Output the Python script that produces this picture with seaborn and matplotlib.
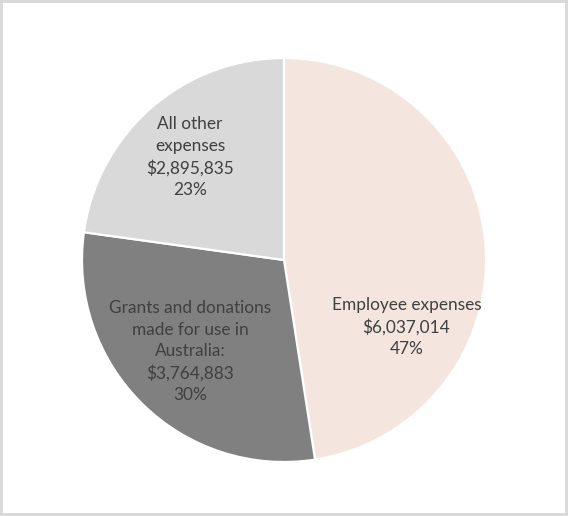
import matplotlib.pyplot as plt
import seaborn as sns
import numpy as np

# Data
categories = ["Employee expenses", "Grants and donations\nmade for use in\nAustralia:", "All other\nexpenses"]
amounts = [6037014, 3764883, 2895835]
pct_labels = ["47%", "30%", "23%"]
colors = ["#F4E5DF", "#808080", "#D9D9D9"]
# label placement (angle in degrees, fraction of radius)
label_angle = [-28.6, 224.4, 132.4]
label_dist = [0.69, 0.65, 0.69]

sns.set_theme(style="white")
plt.rcParams["font.family"] = ["Lato", "DejaVu Sans"]

fig = plt.figure(figsize=(5.68, 5.16), dpi=100)
fig.patch.set_edgecolor("#D9D9D9")
fig.patch.set_linewidth(3)

ax = fig.add_axes([82 / 568, 54 / 516, 404 / 568, 404 / 516])
ax.pie(amounts, colors=colors, startangle=90, counterclock=False,
       wedgeprops=dict(edgecolor="white", linewidth=1.6))
ax.set_xlim(-1, 1)
ax.set_ylim(-1, 1)

for cat, amt, pct, ang, d in zip(categories, amounts, pct_labels, label_angle, label_dist):
    txt = f"{cat}\n${amt:,}\n{pct}"
    x = d * np.cos(np.radians(ang))
    y = d * np.sin(np.radians(ang))
    ax.text(x, y, txt, ha="center", va="center", fontsize=12.4,
            color="#404040", linespacing=1.42)

fig.savefig("out.png", dpi=100)
